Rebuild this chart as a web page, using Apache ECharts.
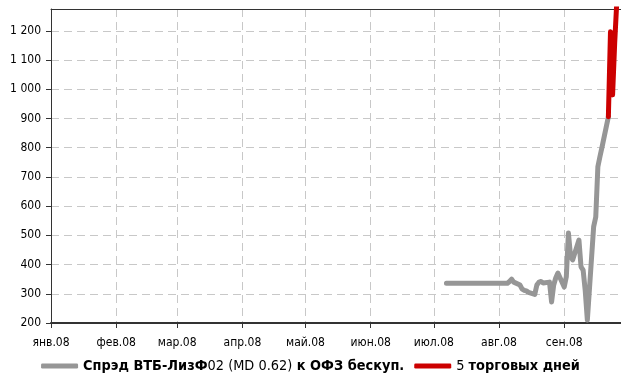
<!DOCTYPE html>
<html lang="ru">
<head>
    <meta charset="UTF-8">
    <script src="https://cdn.jsdelivr.net/npm/echarts@6/dist/echarts.min.js"></script>
    <title>Спрэд</title>
    <style>
        html, body { height: 100%; margin: 0; padding: 0; background: #fff; }
        #chart { width: 621px; height: 374px; }
    </style>
</head>
<body>
    <div id="chart"></div>
    <script>
        var monthTicks = ['2008-01-01', '2008-02-01', '2008-03-01', '2008-04-01', '2008-05-01',
            '2008-06-01', '2008-07-01', '2008-08-01', '2008-09-01'];
        var monthLabels = ['янв.08', 'фев.08', 'мар.08', 'апр.08', 'май.08', 'июн.08', 'июл.08', 'авг.08', 'сен.08'];

        // спрэд, б.п.
        var spreadDates = ['2008-07-07', '2008-08-05', '2008-08-06', '2008-08-07', '2008-08-08',
            '2008-08-11', '2008-08-12', '2008-08-13', '2008-08-14', '2008-08-15', '2008-08-18',
            '2008-08-19', '2008-08-20', '2008-08-21', '2008-08-22', '2008-08-25', '2008-08-26',
            '2008-08-27', '2008-08-28', '2008-08-29', '2008-09-01', '2008-09-02', '2008-09-03',
            '2008-09-04', '2008-09-05', '2008-09-08', '2008-09-09', '2008-09-10', '2008-09-11',
            '2008-09-12', '2008-09-15', '2008-09-16', '2008-09-17', '2008-09-18', '2008-09-19',
            '2008-09-22'];
        var spreadValues = [336, 336, 342, 350, 340,
            330, 316, 312, 310, 305, 298,
            330, 340, 342, 337, 340, 272,
            330, 355, 371, 323, 358, 508,
            430, 416, 484, 392, 381, 310,
            210, 530, 563, 735, 770, 803,
            906];

        // последние 5 торговых дней
        var lastDates = ['2008-09-22', '2008-09-23', '2008-09-24', '2008-09-25', '2008-09-26'];
        var lastValues = [906, 1197, 981, 1159, 1300];

        var seriesNames = ['Спрэд ВТБ-ЛизФ02 (MD 0.62) к ОФЗ бескуп.', '5 торговых дней'];

        var font = "'DejaVu Sans Condensed', 'DejaVu Sans', sans-serif";

        // день от 1 янв. 2008
        function dayNum(s) {
            var p = s.split('-');
            return (Date.UTC(+p[0], +p[1] - 1, +p[2]) - Date.UTC(2008, 0, 1)) / 86400000;
        }
        function pairs(d, v) {
            return d.map(function (x, i) { return [dayNum(x), v[i]]; });
        }
        var tickDays = monthTicks.map(dayNum);
        var xMin = 0, xMax = dayNum('2008-09-28');

        var gridLine = { show: true, lineStyle: { color: '#c8c8c8', type: [8, 5], width: 1 } };

        var myChart = echarts.init(document.getElementById('chart'));
        var option = {
            backgroundColor: '#ffffff',
            animation: false,
            grid: { left: 51, right: 0, top: 9, bottom: 51 },
            legend: {
                top: 354,
                left: 'center',
                icon: 'roundRect',
                itemWidth: 37,
                itemHeight: 5,
                itemGap: 10,
                data: seriesNames,
                formatter: function (name) {
                    if (name === seriesNames[0]) {
                        return '{b|Спрэд ВТБ-ЛизФ}{n|02 (MD 0.62)}{b| к ОФЗ бескуп.}';
                    }
                    return '{n|5 }{b|торговых дней}';
                },
                textStyle: {
                    fontFamily: font,
                    fontSize: 14.4,
                    color: '#000',
                    rich: {
                        b: { fontFamily: font, fontSize: 14.4, fontWeight: 'bold', color: '#000' },
                        n: { fontFamily: font, fontSize: 14.4, color: '#000' }
                    }
                }
            },
            xAxis: [{
                type: 'value',
                min: xMin,
                max: xMax,
                axisLine: { lineStyle: { color: '#333', width: 2 } },
                axisTick: { show: true, length: 5, customValues: tickDays, lineStyle: { color: '#333' } },
                axisLabel: {
                    customValues: tickDays,
                    fontFamily: font,
                    fontSize: 12,
                    color: '#000',
                    margin: 14,
                    formatter: function (v) {
                        var i = tickDays.indexOf(v);
                        return i < 0 ? '' : monthLabels[i];
                    }
                },
                splitLine: gridLine
            }, {
                // верхняя рамка
                type: 'value',
                position: 'top',
                min: xMin,
                max: xMax,
                axisLine: { show: true, onZero: false, lineStyle: { color: '#333', width: 1 } },
                axisTick: { show: false },
                axisLabel: { show: false },
                splitLine: { show: false }
            }],
            yAxis: {
                type: 'value',
                min: 200,
                max: 1275,
                interval: 100,
                axisLine: { show: true, lineStyle: { color: '#333', width: 1 } },
                axisTick: { show: true, length: 5, lineStyle: { color: '#333' } },
                axisLabel: {
                    fontFamily: font,
                    fontSize: 12,
                    color: '#000',
                    margin: 10,
                    showMaxLabel: false,
                    formatter: function (v) {
                        if (v % 100 !== 0) return '';
                        return String(v).replace(/\B(?=(\d{3})+(?!\d))/g, ' ');
                    }
                },
                splitLine: gridLine
            },
            series: [{
                name: seriesNames[0],
                type: 'line',
                data: pairs(spreadDates, spreadValues),
                showSymbol: false,
                symbol: 'none',
                lineStyle: { color: '#969696', width: 5, cap: 'round', join: 'round' },
                itemStyle: { color: '#969696' }
            }, {
                name: seriesNames[1],
                type: 'line',
                data: pairs(lastDates, lastValues),
                showSymbol: false,
                symbol: 'none',
                lineStyle: { color: '#cc0000', width: 5, cap: 'round', join: 'round' },
                itemStyle: { color: '#cc0000' }
            }]
        };
        myChart.setOption(option);
    </script>
</body>
</html>
